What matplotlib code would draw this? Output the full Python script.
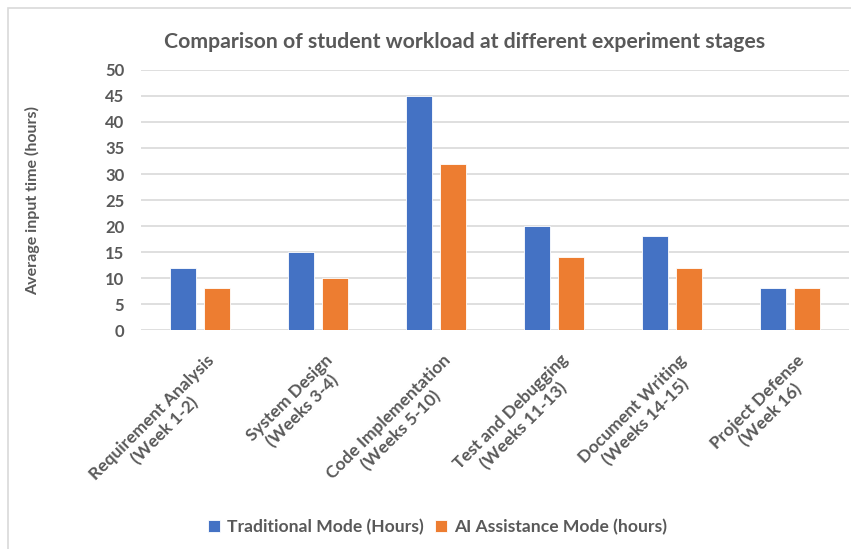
import numpy as np
import matplotlib
matplotlib.use('Agg')
import matplotlib.pyplot as plt
import matplotlib.transforms as mtransforms
from matplotlib.patches import Rectangle

plt.rcParams['font.family'] = ['Lato', 'DejaVu Sans']

# Workload per experiment stage
etapas = [
    'Requirement Analysis\n(Week 1-2)',
    'System Design\n(Weeks 3-4)',
    'Code Implementation\n(Weeks 5-10)',
    'Test and Debugging\n(Weeks 11-13)',
    'Document Writing\n(Weeks 14-15)',
    'Project Defense\n(Week 16)',
]
tradicional = [12, 15, 45, 20, 18, 8]
asistencia_ia = [8, 10, 32, 14, 12, 8]

gris = '#595959'
azul = '#4472C4'
naranja = '#ED7D31'

fig = plt.figure(figsize=(8.51, 5.49), dpi=100)
ax = fig.add_axes([0.1657, 0.3989, 0.832, 0.4736])

# marco del grafico
fig.patches.append(Rectangle((8 / 851, -0.1), 1.2, 1.1 - 8 / 549, transform=fig.transFigure,
                             fill=False, edgecolor='#D9D9D9', linewidth=1.2))

x = np.arange(len(etapas))
ancho = 0.226
ax.bar(x - 0.143, tradicional, ancho, color=azul, edgecolor='white', linewidth=0.6,
       label='Traditional Mode (Hours)', zorder=3)
ax.bar(x + 0.143, asistencia_ia, ancho, color=naranja, edgecolor='white', linewidth=0.6,
       label='AI Assistance Mode (hours)', zorder=3)

ax.set_xlim(-0.5, len(etapas) - 0.5)
ax.set_ylim(0, 50)
ax.set_yticks(range(0, 51, 5))
ax.grid(axis='y', color='#D9D9D9', linewidth=1.2, zorder=0)
for s in ax.spines.values():
    s.set_visible(False)
ax.tick_params(axis='both', length=0, labelsize=12, labelcolor=gris)
ax.tick_params(axis='y', pad=12)
for lbl in ax.get_yticklabels():
    lbl.set_fontweight('bold')

ax.set_xticks(x)
ax.set_xticklabels(etapas, rotation=45, ha='right', rotation_mode='anchor',
                   fontweight='bold', fontsize=12.5)
desplazar = mtransforms.ScaledTranslation(6 / 100, -17 / 100, fig.dpi_scale_trans)
for lbl in ax.get_xticklabels():
    lbl.set_multialignment('center')
    lbl.set_transform(lbl.get_transform() + desplazar)

ax.set_ylabel('Average input time (hours)', fontsize=11.5, color=gris, fontweight='bold')
ax.yaxis.set_label_coords(-0.143, 0.5)

fig.text(0.546, 0.923, 'Comparison of student workload at different experiment stages',
         ha='center', va='center', fontsize=15.3, fontweight='bold', color=gris)

fig.legend(loc='center', bbox_to_anchor=(0.514, 0.04), ncol=2, frameon=False,
           handlelength=0.7, handleheight=0.7, handletextpad=0.4,
           columnspacing=0.6, labelcolor=gris, prop={'weight': 'bold', 'size': 12.6})

fig.savefig('out.png', dpi=100)
